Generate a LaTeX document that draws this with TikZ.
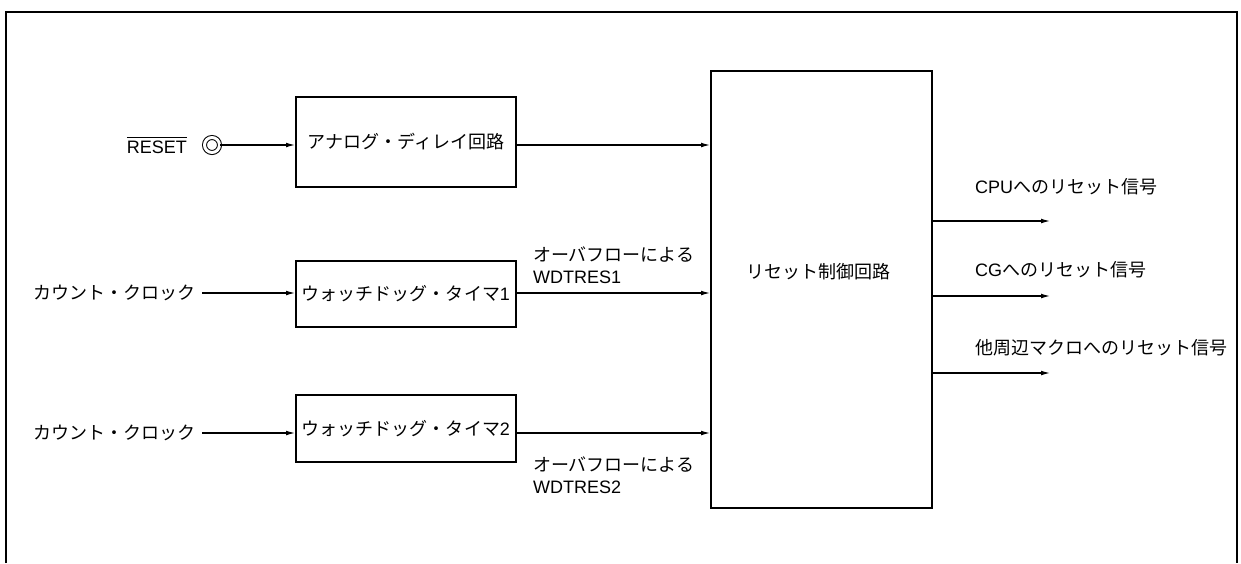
\documentclass[tikz,border=0pt]{standalone}
\usepackage{fontspec}
\setmainfont{Liberation Sans}
\newfontfamily\jp{Noto Sans CJK JP}
\usetikzlibrary{arrows.meta}

\begin{document}
\begin{tikzpicture}[x=0.5pt,y=-0.5pt,
    font=\fontsize{9pt}{11pt}\selectfont,
    blk/.style={draw, line width=1pt, minimum width=110pt, inner sep=0pt},
    sig/.style={line width=0.6pt, -{Latex[length=4.5pt,width=2.4pt]}},
    lbl/.style={anchor=west, align=left}]
    \useasboundingbox (0,0) rectangle (1241,563);
    \draw[line width=0.8pt] (6,563) -- (6,12) -- (1237,12) -- (1237,563);

    % blocks
    \node[blk, minimum height=45pt] (adly) at (406,142) {\jp アナログ・ディレイ回路};
    \node[blk, minimum height=33pt] (wdt1) at (406,293.5) {{\jp ウォッチドッグ・タイマ}1};
    \node[blk, minimum height=33.5pt] (wdt2) at (406,428.5) {{\jp ウォッチドッグ・タイマ}2};
    \node[blk, minimum width=110.5pt, minimum height=218.5pt] (ctrl) at (821.5,289.5) {};
    \node (ctrltxt) at (818,272) {\jp リセット制御回路};

    % inputs
    \node[anchor=east] (rsttxt) at (194,145) {$\overline{\mbox{RESET}}$};
    \node[circle, draw, double, line width=0.5pt, double distance=1.5pt,
          minimum size=7.5pt, inner sep=0pt] (rst) at (212,145) {};
    \node[anchor=west] (cin1) at (26,293) {\jp カウント・クロック};
    \node[anchor=west] (cin2) at (26,433) {\jp カウント・クロック};

    \draw[sig] (rst.east) -- (rst -| adly.west);
    \draw[sig] (cin1.east) -- (cin1 -| wdt1.west);
    \draw[sig] (cin2.east) -- (cin2 -| wdt2.west);

    % into the control block
    \draw[sig] (adly.east |- rst) -- (rst -| ctrl.west);
    \draw[sig] (wdt1.east |- cin1) -- (cin1 -| ctrl.west);
    \draw[sig] (wdt2.east |- cin2) -- (cin2 -| ctrl.west);
    \node[lbl] (ovf1) at (526,265) {{\jp オーバフローによる}\\WDTRES1};
    \node[lbl] (ovf2) at (526,475.5) {{\jp オーバフローによる}\\WDTRES2};

    % outputs
    \coordinate (o1) at (1050,221);
    \coordinate (o2) at (1050,296);
    \coordinate (o3) at (1050,373);
    \draw[sig] (o1 -| ctrl.east) -- (o1);
    \draw[sig] (o2 -| ctrl.east) -- (o2);
    \draw[sig] (o3 -| ctrl.east) -- (o3);
    \node[lbl] (out1) at (968,187) {CPU{\jp へのリセット信号}};
    \node[lbl] (out2) at (968,270) {CG{\jp へのリセット信号}};
    \node[lbl] (out3) at (968,348) {\jp 他周辺マクロへのリセット信号};
\end{tikzpicture}
\end{document}
